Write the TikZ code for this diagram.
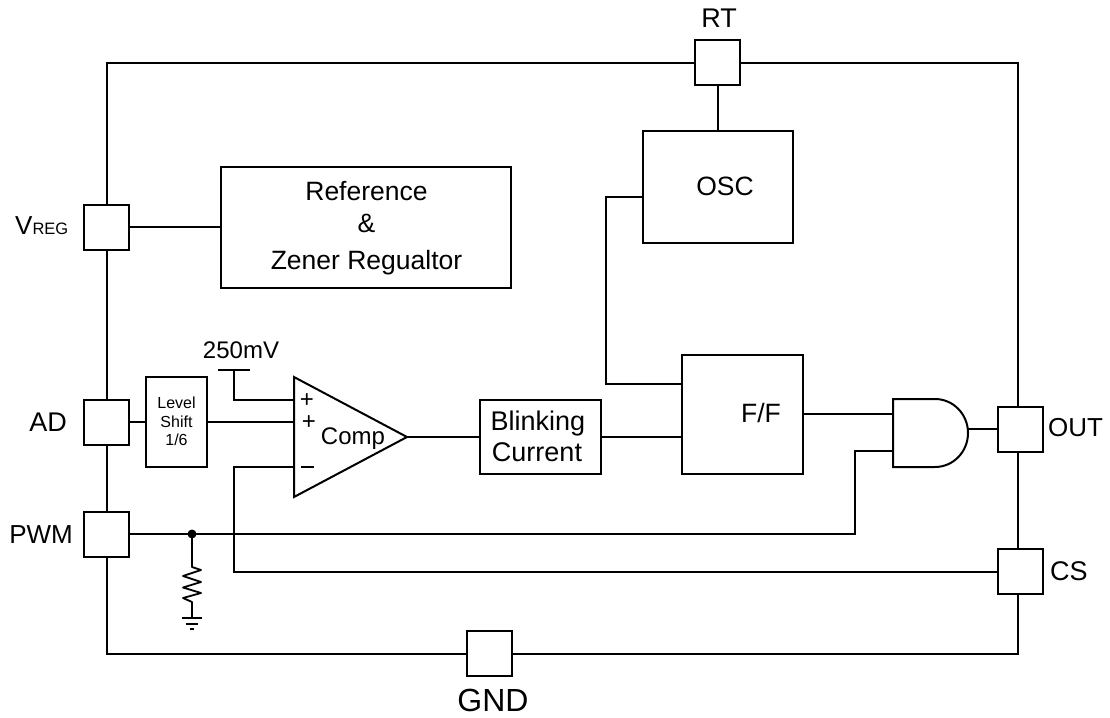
\documentclass[tikz,border=0pt]{standalone}
\usepackage{fontspec}
\setmainfont{Liberation Sans}
\usetikzlibrary{calc}
\newcommand{\fs}[1]{\fontsize{#1}{#1}\selectfont}
\tikzset{
  wire/.style={draw=black,line width=1.8pt,line join=miter},
  pad/.style={draw=black,fill=white,line width=2pt,minimum width=45pt,minimum height=45pt,inner sep=0pt},
  blk/.style={draw=black,fill=white,line width=2pt,inner sep=0pt,align=center},
  lab/.style={inner sep=0pt,align=center,anchor=base,font=\fs{26.5}},
}
\begin{document}
\begin{tikzpicture}[x=1pt,y=-1pt]
\useasboundingbox (0,0) rectangle (1110,717);
\fill[white] (0,0) rectangle (1110,717);
% frame corners
\coordinate (tl) at (107,63);
\coordinate (tr) at (1018,63);
\coordinate (bl) at (107,654);
\coordinate (br) at (1018,654);
\coordinate (RTc) at (718,63);
% pads
\node[pad] (RT) at (717.5,62.5) {};
\node[pad] (VREG) at (106.5,227) {};
\node[pad] (AD) at (106.5,422) {};
\node[pad] (PWM) at (106.5,534) {};
\node[pad] (OUT) at (1020.5,429) {};
\node[pad] (CS) at (1020.5,571) {};
\node[pad] (GND) at (489.5,653.5) {};
% blocks
\node[blk,minimum width=290pt,minimum height=121pt] (REF) at (366,227.5) {};
\node[blk,minimum width=150pt,minimum height=112pt] (OSC) at (718,187) {};
\node[blk,minimum width=121pt,minimum height=119pt] (FF) at (742.5,414.5) {};
\node[blk,minimum width=121pt,minimum height=74pt] (BL) at (540.5,437) {};
\node[blk,minimum width=61pt,minimum height=90pt] (LS) at (176.5,422) {};
% comparator
\path[wire,draw,fill=white,line width=2pt] (294,377) coordinate (CA) -- (407,437) coordinate (Ctip) -- (294,497) coordinate (CB) -- cycle;
% AND gate
\path[wire,draw,fill=white,line width=2pt] (893,399) coordinate (GA) -- (935,399) arc[start angle=-90,end angle=90,x radius=33pt,y radius=-34pt] -- (893,467) coordinate (GB) -- cycle;
\coordinate (Gout) at (968,429);
\coordinate (Gin1) at (893,414);
\coordinate (Gin2) at (893,451);
% frame
\draw[wire] (RT.west |- tl) -- (tl) -- (VREG.north -| tl);
\draw[wire] (RT.east |- tr) -- (tr) -- (tr |- OUT.north);
\draw[wire] (VREG.south -| tl) -- (AD.north -| tl);
\draw[wire] (AD.south -| tl) -- (PWM.north -| tl);
\draw[wire] (PWM.south -| tl) -- (bl) -- (GND.west |- bl);
\draw[wire] (GND.east |- br) -- (br) -- (br |- CS.south);
\draw[wire] (br |- CS.north) -- (br |- OUT.south);
% internal connections
\draw[wire] (RTc |- RT.south) -- (RTc |- OSC.north);
\draw[wire] (VREG.east) -- (VREG.east -| REF.west);
\draw[wire] (AD.east) -- (AD.east -| LS.west);
\draw[wire] (LS.east) -- (LS.east -| CA);
\coordinate (OSCl) at (OSC.west |- 0,197);
\coordinate (FFa) at (FF.west |- 0,384);
\draw[wire] (OSCl) -- (606,197) -- (606,384) -- (FFa);
\draw[wire] (Ctip) -- (Ctip -| BL.west);
\draw[wire] (BL.east) -- (BL.east -| FF.west);
\coordinate (FFo) at (FF.east |- Gin1);
\draw[wire] (FFo) -- (Gin1);
\draw[wire] (Gout) -- (Gout -| OUT.west);
% 250mV reference
\node[lab,font=\fs{24}] (V250) at (241,358) {250mV};
\coordinate (Vbar) at (234,370);
\draw[wire] ($(Vbar)+(-16,0)$) -- ($(Vbar)+(16,0)$);
\draw[wire] (Vbar) -- (234,400) -- (CA |- 0,400);
% comparator minus to CS
\draw[wire] (CA |- 0,467) -- (234,467) -- (234,572) -- (CS.west |- 0,572);
% PWM line
\coordinate (J) at (192,534);
\draw[wire] (PWM.east) -- (J) -- (855,534) -- (855,451) -- (Gin2);
\fill (J) circle (4.5pt);
% resistor and ground
\draw[wire,line join=round] (J) -- (192,567) -- (201,570) -- (183,576) -- (201,582) -- (183,587.5) -- (201,593) -- (183,598) -- (192,602) -- (192,618);
\draw[wire] (182,618) -- (202,618);
\draw[wire] (186,624) -- (198,624);
\draw[wire] (190,629) -- (194,629);
% comparator signs
\node[lab,font=\fs{24}] (p1) at (307,407.5) {+};
\node[lab,font=\fs{24}] (p2) at (309,429.5) {+};
\draw[wire] (301,467) -- (314,467);
% texts
\node[lab] (t1) at (366.5,200) {Reference};
\node[lab] (t2) at (366.5,232) {\&};
\node[lab] (t3) at (366.5,269) {Zener Regualtor};
\node[lab] (t4) at (725,195) {OSC};
\node[lab] (t5) at (761,422) {F/F};
\node[lab,font=\fs{27}] (t6) at (538,430) {Blinking};
\node[lab,font=\fs{27}] (t7) at (537,461) {Current};
\node[lab,font=\fs{24}] (t8) at (353,444) {Comp};
\node[lab,font=\fs{16}] (t9) at (176.5,408) {Level};
\node[lab,font=\fs{16}] (t10) at (176.5,427) {Shift};
\node[lab,font=\fs{16}] (t11) at (176.5,445) {1/6};
\node[lab,font=\fs{27}] (l1) at (719,28) {RT};
\node[lab,anchor=base west,font=\fs{26}] (l2) at (15,234) {V{\fs{16.5}REG}};
\node[lab,anchor=base east,font=\fs{27}] (l3) at (67,431) {AD};
\node[lab,anchor=base east,font=\fs{26}] (l4) at (73,543) {PWM};
\node[lab,anchor=base west,font=\fs{26}] (l5) at (1048,436) {OUT};
\node[lab,anchor=base west,font=\fs{27}] (l6) at (1050,580) {CS};
\node[lab,font=\fs{32}] (l7) at (493,711) {GND};
\end{tikzpicture}
\end{document}
